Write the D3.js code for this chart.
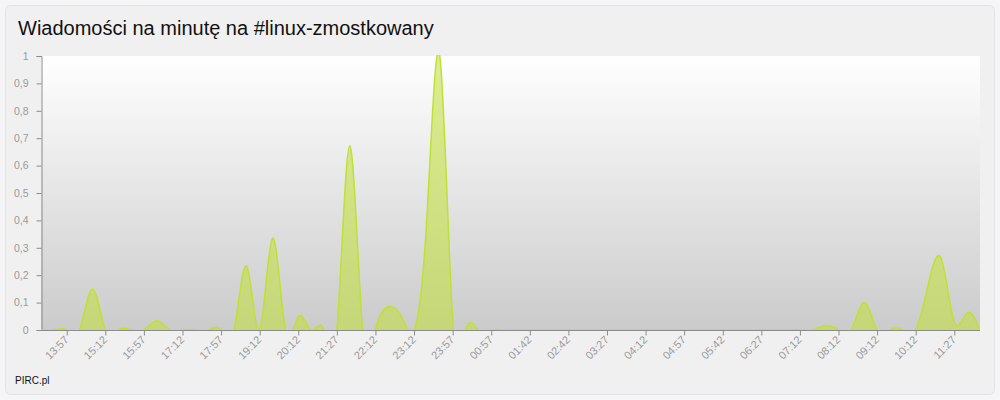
<!DOCTYPE html>
<html>
<head>
<meta charset="utf-8">
<script src="https://cdn.jsdelivr.net/npm/d3@7"></script>
<style>
    body { margin: 0; background: #f5f5f8; }
    svg { display: block; font-family: "Liberation Sans", Arial, sans-serif; }
</style>
</head>
<body>
<svg id="chart" width="1000" height="400"></svg>
<script>
const CHART_TITLE = "Wiadomości na minutę na #linux-zmostkowany";
const FOOTER_TEXT = "PIRC.pl";

// one label every LABEL_STEP points, starting at FIRST_LABEL
const TIME_LABELS = [
    "13:57", "15:12", "15:57", "17:12", "17:57", "19:12", "20:12", "21:27",
    "22:12", "23:12", "23:57", "00:57", "01:42", "02:42", "03:27", "04:12",
    "04:57", "05:42", "06:27", "07:12", "08:12", "09:12", "10:12", "11:27",
];
const FIRST_LABEL = 2;
const LABEL_STEP = 3;

// messages per minute, one value per sample
const MSG_PER_MIN = [
    0, 0, 0, 0, 0.15, 0, 0, 0, 0, 0.034,
    0, 0, 0, 0, 0, 0, 0.232, 0, 0.335, 0,
    0.048, 0, 0, 0, 0.672, 0, 0, 0.085, 0.05, 0,
    0.41, 1.0, 0.04, 0, 0, 0, 0, 0, 0, 0,
    0, 0, 0, 0, 0, 0, 0, 0, 0, 0,
    0, 0, 0, 0, 0, 0, 0, 0, 0, 0,
    0, 0.016, 0, 0, 0.1, 0, 0, 0, 0, 0.17,
    0.258, 0.03, 0.062, 0,
];

const Y_TICKS = [0, 0.1, 0.2, 0.3, 0.4, 0.5, 0.6, 0.7, 0.8, 0.9, 1];

const LINE_COLOR = "#bfe035";

const svg = d3.select("#chart");
let svgWidth = +svg.attr("width");
let svgHeight = +svg.attr("height");
let plot = { left: 41, right: 980, top: 56, bottom: 330 };

// panel
svg.append("rect")
    .attr("x", 5.5).attr("y", 5.5)
    .attr("width", svgWidth - 11).attr("height", svgHeight - 11)
    .attr("rx", 5)
    .attr("fill", "#f0f0f0")
    .attr("stroke", "#e2e2e6");

svg.append("text")
    .attr("x", 18).attr("y", 35)
    .attr("font-size", 20)
    .attr("fill", "#111")
    .text(CHART_TITLE);

svg.append("text")
    .attr("x", 15).attr("y", 384)
    .attr("font-size", 10)
    .attr("fill", "#111")
    .text(FOOTER_TEXT);

const defs = svg.append("defs");
const grad = defs.append("linearGradient")
    .attr("id", "plot-bg")
    .attr("x1", 0).attr("y1", 0).attr("x2", 0).attr("y2", 1);
grad.append("stop").attr("offset", "0%").attr("stop-color", "#ffffff");
grad.append("stop").attr("offset", "100%").attr("stop-color", "#cbcbcb");

defs.append("clipPath").attr("id", "plot-clip")
    .append("rect")
    .attr("x", plot.left).attr("y", plot.top - 1)
    .attr("width", plot.right - plot.left).attr("height", plot.bottom - plot.top + 1);

svg.append("rect")
    .attr("x", plot.left).attr("y", plot.top)
    .attr("width", plot.right - plot.left).attr("height", plot.bottom - plot.top)
    .attr("fill", "url(#plot-bg)");

let xScale = d3.scaleLinear()
    .domain([0, MSG_PER_MIN.length - 1])
    .range([plot.left, plot.right]);
let yScale = d3.scaleLinear().domain([0, 1]).range([plot.bottom, plot.top]);

const fmt = (v) => (v === 0 || v === 1 ? String(v) : v.toFixed(1).replace(".", ","));

// y axis
let yAxis = d3.axisLeft(yScale)
    .tickValues(Y_TICKS)
    .tickSize(5)
    .tickPadding(8)
    .tickFormat(fmt);
svg.append("g")
    .attr("class", "yAxis")
    .attr("transform", `translate(${plot.left + 0.5},0)`)
    .call(yAxis)
    .call((g) => g.select(".domain").attr("stroke", "#8c8c8c"))
    .call((g) => g.selectAll(".tick line").attr("stroke", "#8c8c8c"))
    .call((g) => g.selectAll(".tick text")
        .attr("fill", "#9a9a9a")
        .attr("font-size", 10.5)
        .attr("font-family", "Liberation Sans, Arial, sans-serif"));

// curve
const chart = svg.append("g").attr("clip-path", "url(#plot-clip)");

let area = d3.area()
    .curve(d3.curveNatural)
    .x((d, i) => xScale(i))
    .y0(yScale(0))
    .y1((d) => yScale(d));

let line = d3.line()
    .curve(d3.curveNatural)
    .x((d, i) => xScale(i))
    .y((d) => yScale(d));

chart.append("path")
    .datum(MSG_PER_MIN)
    .attr("d", area)
    .attr("fill", LINE_COLOR)
    .attr("fill-opacity", 0.55);

// x axis
const labelIdx = TIME_LABELS.map((t, k) => FIRST_LABEL + k * LABEL_STEP);
let xAxis = d3.axisBottom(xScale)
    .tickValues(labelIdx)
    .tickSize(5)
    .tickFormat((i) => TIME_LABELS[(i - FIRST_LABEL) / LABEL_STEP]);
svg.append("g")
    .attr("class", "xAxis")
    .attr("transform", `translate(0,${plot.bottom + 0.5})`)
    .call(xAxis)
    .call((g) => g.select(".domain").attr("stroke", "#8c8c8c").attr("d", `M${plot.left},0H${plot.right}`))
    .call((g) => g.selectAll(".tick line").attr("stroke", "#8c8c8c"))
    .call((g) => g.selectAll(".tick text")
        .attr("fill", "#9a9a9a")
        .attr("font-size", 11)
        .attr("font-family", "Liberation Sans, Arial, sans-serif")
        .attr("text-anchor", "end")
        .attr("dy", null)
        .attr("y", 0)
        .attr("transform", "translate(2,10) rotate(-45)"));

chart.append("path")
    .datum(MSG_PER_MIN)
    .attr("d", line)
    .attr("fill", "none")
    .attr("stroke", LINE_COLOR)
    .attr("stroke-width", 1.5);
</script>
</body>
</html>
